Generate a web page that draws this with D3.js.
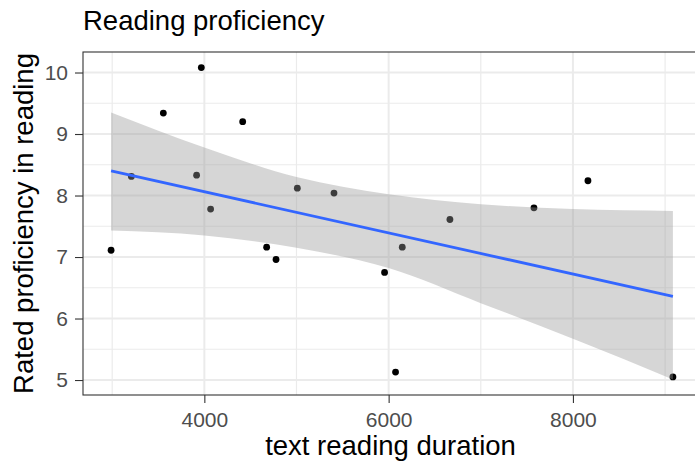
<!DOCTYPE html>
<html>
<head>
<meta charset="utf-8">
<script src="https://cdn.jsdelivr.net/npm/d3@7"></script>
<style>
  body { margin: 0; background: #fff; }
  text { font-family: "Liberation Sans", Arial, sans-serif; }
</style>
</head>
<body>
<div id="chart"></div>
<script>
// reading duration vs rated proficiency
var duration = [2988, 3208, 3555, 3967, 3916, 4068, 4416, 4676, 4778,
                5009, 5407, 5956, 6075, 6148, 6665, 7577, 8163, 9085];
var proficiency = [7.11, 8.31, 9.34, 10.08, 8.33, 7.78, 9.20, 7.16, 6.96,
                   8.12, 8.04, 6.75, 5.13, 7.16, 7.61, 7.80, 8.24, 5.05];
// lm smooth as drawn: fitted line ends and the 95% band edges
var fitX = [2988, 9085];
var fitY = [8.40, 6.36];
var bandX = [2988, 4000, 5000, 6000, 7000, 8000, 9085];
var bandHi = [9.35, 8.78, 8.30, 8.02, 7.86, 7.78, 7.75];
var bandLo = [7.43, 7.35, 7.15, 6.82, 6.25, 5.67, 5.01];
var xTicks = [4000, 6000, 8000];
var xMinor = [3000, 5000, 7000, 9000];
var yTicks = [5, 6, 7, 8, 9, 10];
var yMinor = [5.5, 6.5, 7.5, 8.5, 9.5];

var width = 695, height = 465;
var margin = {top: 52, right: -6, bottom: 70, left: 83};
var pw = width - margin.left - margin.right,
    ph = height - margin.top - margin.bottom;

var svg = d3.select("#chart").append("svg")
  .attr("width", width)
  .attr("height", height);

var band = bandX.map(function(d, i) { return {x: d, lo: bandLo[i], hi: bandHi[i]}; });
var fit = fitX.map(function(d, i) { return {x: d, y: fitY[i]}; });

// ggplot style 5% expansion
var xr = d3.extent(duration);
var yr = d3.extent(proficiency.concat(bandLo, bandHi));
var xpad = (xr[1] - xr[0]) * 0.05, ypad = (yr[1] - yr[0]) * 0.05;

var x = d3.scaleLinear().domain([xr[0] - xpad, xr[1] + xpad]).range([0, pw]);
var y = d3.scaleLinear().domain([yr[0] - ypad, yr[1] + ypad]).range([ph, 0]);

svg.append("defs").append("clipPath").attr("id", "clip")
  .append("rect").attr("width", pw).attr("height", ph);

var g = svg.append("g")
  .attr("transform", "translate(" + margin.left + "," + margin.top + ")");
var plot = g.append("g").attr("clip-path", "url(#clip)");

plot.append("rect").attr("width", pw).attr("height", ph).attr("fill", "#fff");

// grid
function hgrid(vals, w) {
  plot.selectAll(null).data(vals).enter().append("line")
    .attr("x1", 0).attr("x2", pw)
    .attr("y1", function(d) { return y(d); }).attr("y2", function(d) { return y(d); })
    .attr("stroke", "#ebebeb").attr("stroke-width", w);
}
function vgrid(vals, w) {
  plot.selectAll(null).data(vals).enter().append("line")
    .attr("y1", 0).attr("y2", ph)
    .attr("x1", function(d) { return x(d); }).attr("x2", function(d) { return x(d); })
    .attr("stroke", "#ebebeb").attr("stroke-width", w);
}
hgrid(yMinor, 1.2);
vgrid(xMinor, 1.2);
hgrid(yTicks, 2);
vgrid(xTicks, 2);

// points
plot.selectAll(".dot").data(duration).enter().append("circle")
  .attr("class", "dot")
  .attr("cx", function(d) { return x(d); })
  .attr("cy", function(d, i) { return y(proficiency[i]); })
  .attr("r", 3.4)
  .attr("fill", "#000");

// band and fit line on top of the points
plot.append("path").datum(band)
  .attr("d", d3.area()
    .curve(d3.curveMonotoneX)
    .x(function(d) { return x(d.x); })
    .y0(function(d) { return y(d.lo); })
    .y1(function(d) { return y(d.hi); }))
  .attr("fill", "#999999").attr("fill-opacity", 0.4);
plot.append("path").datum(fit)
  .attr("d", d3.line()
    .x(function(d) { return x(d.x); })
    .y(function(d) { return y(d.y); }))
  .attr("fill", "none").attr("stroke", "#3366ff").attr("stroke-width", 2.8);

// panel border
g.append("rect").attr("width", pw).attr("height", ph)
  .attr("fill", "none").attr("stroke", "#333333").attr("stroke-width", 1.1);

// axes
var xAxis = g.append("g").attr("transform", "translate(0," + ph + ")")
  .call(d3.axisBottom(x).tickValues(xTicks).tickSize(8).tickPadding(9).tickFormat(d3.format("d")));
var yAxis = g.append("g")
  .call(d3.axisLeft(y).tickValues(yTicks).tickSize(8).tickPadding(7).tickFormat(d3.format("d")));
[xAxis, yAxis].forEach(function(a) {
  a.select(".domain").remove();
  a.selectAll(".tick line").attr("stroke", "#333333").attr("stroke-width", 1.1);
  a.selectAll(".tick text").attr("fill", "#4d4d4d").style("font-size", "21px")
    .style("font-family", "'Liberation Sans', Arial, sans-serif");
});

svg.append("text")
  .attr("x", 83).attr("y", 30)
  .style("font-size", "27.5px").attr("fill", "#000")
  .text("Reading proficiency");

svg.append("text")
  .attr("x", 390.5).attr("y", 455)
  .attr("text-anchor", "middle")
  .style("font-size", "27.5px").attr("fill", "#000")
  .text("text reading duration");

svg.append("text")
  .attr("transform", "translate(33," + (margin.top + ph / 2) + ") rotate(-90)")
  .attr("text-anchor", "middle")
  .style("font-size", "27.5px").attr("fill", "#000")
  .text("Rated proficiency in reading");
</script>
</body>
</html>
